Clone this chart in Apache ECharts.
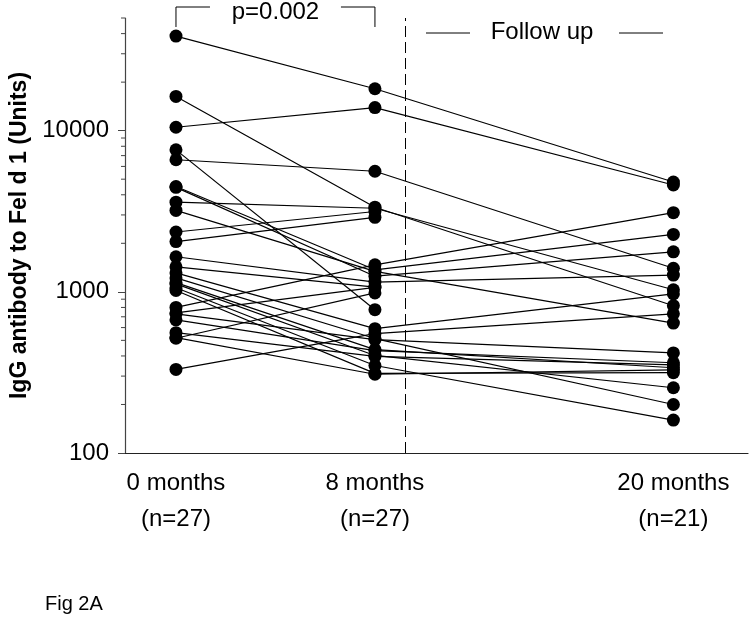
<!DOCTYPE html>
<html>
<head>
<meta charset="utf-8">
<script src="https://cdn.jsdelivr.net/npm/echarts@6/dist/echarts.min.js"></script>
<style>
  html, body { margin: 0; padding: 0; background: #fff; }
  #chart { width: 750px; height: 617px; }
</style>
</head>
<body>
<div id="chart"></div>
<script type="text/javascript">
// time points (months) and group sizes
var months = [0, 8, 20];
var nLabels = ['(n=27)', '(n=27)', '(n=21)'];

// IgG to Fel d 1, one entry per child (null = no follow up sample)
var igg0  = [38600, 10500, 16300, 6600, 7600, 3600, 2350, 2050, 4500, 4450, 3200, 1650, 1430, 1310,
             1220, 1140, 1120, 1060, 1020, 800, 740, 730, 670, 558, 520, 515, 330];
var igg8  = [18200, 13900, 3350, 5600, 775, 3300, 3150, 2900, 1370, 1250, 1340, 1150, 1070, 591,
             513, 438, 403, 349, 312, 1470, 1065, 505, 432, 398, 308, 985, 550];
var igg20 = [4800, 4600, 820, 1400, null, 1030, null, null, 2270, 1770, 640, 1270, null, 970,
             200, 338, 254, 160, 315, 3100, null, 418, 363, 352, 328, null, 730];

var minorTicks = [200, 300, 400, 500, 600, 700, 800, 900,
                  2000, 3000, 4000, 5000, 6000, 7000, 8000, 9000,
                  20000, 30000, 40000, 50000];
var followUpStart = 9.2;

var fontName = '"Liberation Sans", Arial, sans-serif';

var chart = echarts.init(document.getElementById('chart'));

var series = [];
for (var i = 0; i < igg0.length; i++) {
    var pts = [[months[0], igg0[i]], [months[1], igg8[i]]];
    if (igg20[i] != null) pts.push([months[2], igg20[i]]);
    series.push({
        type: 'line',
        data: pts,
        symbol: 'circle',
        symbolSize: 13,
        itemStyle: { color: '#000' },
        lineStyle: { color: '#000', width: 1.2 },
        silent: true
    });
}
series[0].markLine = {
    silent: true,
    symbol: 'none',
    label: { show: false },
    lineStyle: { color: '#000', type: [11, 5], width: 1 },
    data: [{ xAxis: followUpStart }]
};

var option = {
    animation: false,
    backgroundColor: '#fff',
    grid: { left: 125, right: 2, top: 18, bottom: 164 },
    xAxis: {
        type: 'value',
        min: -2.05,
        max: 23.0,
        axisLine: { onZero: false, lineStyle: { color: '#222', width: 1.2 } },
        axisTick: { show: false },
        splitLine: { show: false },
        axisLabel: {
            customValues: months,
            margin: 12,
            color: '#000',
            fontFamily: fontName,
            fontSize: 24,
            lineHeight: 36,
            formatter: function (v) {
                var k = months.indexOf(v);
                return v + ' months\n' + nLabels[k];
            }
        }
    },
    yAxis: {
        type: 'log',
        logBase: 10,
        min: 100,
        max: 50000,
        name: 'IgG antibody to Fel d 1 (Units)',
        nameLocation: 'middle',
        nameGap: 90,
        nameTextStyle: { color: '#000', fontFamily: fontName, fontSize: 23, fontWeight: 'bold' },
        axisLine: { show: true, onZero: false, lineStyle: { color: '#444', width: 1.2 } },
        axisTick: { show: true, length: 7, lineStyle: { color: '#444' } },
        splitLine: { show: false },
        axisLabel: {
            color: '#000', fontFamily: fontName, fontSize: 24, margin: 16,
            showMaxLabel: false,
            formatter: function (v) { return v === 50000 ? '' : String(v); }
        }
    },
    series: series
};
chart.setOption(option);

// minor log ticks, p-value bracket and other annotations
var gfx = [];
var axisX = chart.convertToPixel({ xAxisIndex: 0 }, -2.05);
minorTicks.forEach(function (v) {
    var y = chart.convertToPixel({ yAxisIndex: 0 }, v);
    gfx.push({
        type: 'line',
        shape: { x1: axisX - 4, y1: y, x2: axisX, y2: y },
        style: { stroke: '#444', lineWidth: 1 }
    });
});
var x0 = chart.convertToPixel({ xAxisIndex: 0 }, months[0]);
var x8 = chart.convertToPixel({ xAxisIndex: 0 }, months[1]);
gfx.push({
    type: 'polyline',
    shape: { points: [[x0, 27], [x0, 7], [x0 + 34, 7]] },
    style: { stroke: '#000', lineWidth: 1, fill: null }
});
gfx.push({
    type: 'polyline',
    shape: { points: [[x8 - 34, 7], [x8, 7], [x8, 27]] },
    style: { stroke: '#000', lineWidth: 1, fill: null }
});
gfx.push({
    type: 'text', x: (x0 + x8) / 2, y: 12,
    style: { text: 'p=0.002', fill: '#000', font: '24px ' + fontName, textAlign: 'center', textVerticalAlign: 'middle' }
});
gfx.push({
    type: 'text', x: 542, y: 32,
    style: { text: 'Follow up', fill: '#000', font: '24px ' + fontName, textAlign: 'center', textVerticalAlign: 'middle' }
});
gfx.push({ type: 'line', shape: { x1: 426, y1: 33, x2: 470, y2: 33 }, style: { stroke: '#000', lineWidth: 1 } });
gfx.push({ type: 'line', shape: { x1: 619, y1: 33, x2: 663, y2: 33 }, style: { stroke: '#000', lineWidth: 1 } });
gfx.push({
    type: 'text', x: 45, y: 604,
    style: { text: 'Fig 2A', fill: '#000', font: '20px ' + fontName, textAlign: 'left', textVerticalAlign: 'middle' }
});
chart.setOption({ graphic: gfx });
</script>
</body>
</html>
